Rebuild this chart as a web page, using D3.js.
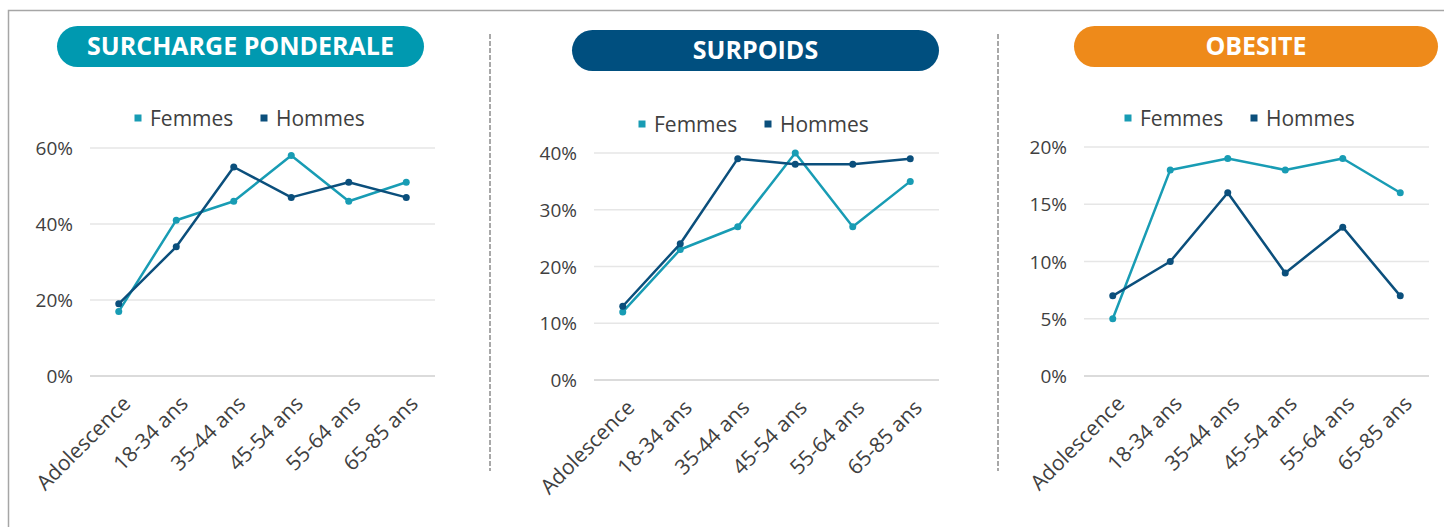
<!DOCTYPE html>
<html>
<head>
<meta charset="utf-8">
<script src="https://d3js.org/d3.v7.min.js"></script>
<style>
  body { margin: 0; background: #fff; font-family: "Open Sans", "Noto Sans", sans-serif; }
  svg { display: block; }
</style>
</head>
<body>
<svg id="chart" width="1448" height="527"></svg>
<script>
// categories shared by all three panels
const categories = ["Adolescence", "18-34 ans", "35-44 ans", "45-54 ans", "55-64 ans", "65-85 ans"];
const seriesNames = ["Femmes", "Hommes"];

const titles = ["SURCHARGE PONDERALE", "SURPOIDS", "OBESITE"];

// values in %
const surchargeFemmes = [17, 41, 46, 58, 46, 51];
const surchargeHommes = [19, 34, 55, 47, 51, 47];
const surpoidsFemmes = [12, 23, 27, 40, 27, 35];
const surpoidsHommes = [13, 24, 39, 38, 38, 39];
const obesiteFemmes = [5, 18, 19, 18, 19, 16];
const obesiteHommes = [7, 10, 16, 9, 13, 7];

const surchargeTicks = [0, 20, 40, 60];
const surpoidsTicks = [0, 10, 20, 30, 40];
const obesiteTicks = [0, 5, 10, 15, 20];

const colors = { Femmes: "#189cb4", Hommes: "#0b4f7c" };
const titleColors = ["#0099b0", "#004f7f", "#ee8a1a"];

// layout of each panel
const panels = [
  { title: titles[0], fill: titleColors[0], f: surchargeFemmes, h: surchargeHommes, ticks: surchargeTicks,
    pill: [57, 26, 367, 41], legendX: 138, legendY: 118, x0: 90, top: 148, bottom: 376 },
  { title: titles[1], fill: titleColors[1], f: surpoidsFemmes, h: surpoidsHommes, ticks: surpoidsTicks,
    pill: [572, 30, 367, 41], legendX: 642, legendY: 124, x0: 594, top: 153, bottom: 380 },
  { title: titles[2], fill: titleColors[2], f: obesiteFemmes, h: obesiteHommes, ticks: obesiteTicks,
    pill: [1074, 26, 364, 41], legendX: 1128, legendY: 118, x0: 1084, top: 147, bottom: 376 }
];

const svg = d3.select("#chart");

// outer frame
svg.append("path")
  .attr("d", "M8.5,527 L8.5,10.5 L1444,10.5")
  .attr("fill", "none")
  .attr("stroke", "#a6a6a6")
  .attr("stroke-width", 1.5);

// dashed separators
[490, 998].forEach(x => {
  svg.append("line")
    .attr("x1", x).attr("x2", x)
    .attr("y1", 34).attr("y2", 471)
    .attr("stroke", "#8c8c8c")
    .attr("stroke-width", 1.5)
    .attr("stroke-dasharray", "5,2");
});

panels.forEach(p => {
  const g = svg.append("g");

  // title pill
  const [px, py, pw, ph] = p.pill;
  g.append("rect")
    .attr("x", px).attr("y", py)
    .attr("width", pw).attr("height", ph)
    .attr("rx", ph / 2)
    .attr("fill", p.fill);
  g.append("text")
    .attr("x", px + pw / 2).attr("y", py + ph / 2 + 8.5)
    .attr("text-anchor", "middle")
    .attr("fill", "#fff")
    .attr("font-weight", "bold")
    .attr("font-size", 25)
    .text(p.title);

  // legend
  const leg = g.append("g").attr("transform", `translate(${p.legendX},${p.legendY})`);
  seriesNames.forEach((s, i) => {
    const lx = i * 126;
    leg.append("rect")
      .attr("x", lx - 3.5).attr("y", -3.5)
      .attr("width", 7).attr("height", 7)
      .attr("fill", colors[s]);
    leg.append("text")
      .attr("x", lx + 12).attr("y", 7.5)
      .attr("font-size", 21)
      .attr("fill", "#404040")
      .text(s);
  });

  const x = d3.scaleBand().domain(categories).range([p.x0, p.x0 + 345]);
  const y = d3.scaleLinear().domain([0, d3.max(p.ticks)]).range([p.bottom, p.top]);
  const cx = d => x(d) + x.bandwidth() / 2;

  // gridlines
  g.append("g").selectAll("line")
    .data(p.ticks)
    .enter().append("line")
    .attr("x1", p.x0).attr("x2", p.x0 + 345)
    .attr("y1", d => y(d)).attr("y2", d => y(d))
    .attr("stroke", d => d === 0 ? "#cfcfcf" : "#e6e6e6")
    .attr("stroke-width", 1.5);

  // y labels
  g.append("g").selectAll("text")
    .data(p.ticks)
    .enter().append("text")
    .attr("x", p.x0 - 17)
    .attr("y", d => y(d) + 7)
    .attr("text-anchor", "end")
    .attr("font-size", 19)
    .attr("fill", "#404040")
    .text(d => d + "%");

  // x labels
  g.append("g").selectAll("text")
    .data(categories)
    .enter().append("text")
    .attr("transform", d => `translate(${cx(d) + 13},${p.bottom + 29}) rotate(-45)`)
    .attr("text-anchor", "end")
    .attr("font-size", 21)
    .attr("fill", "#404040")
    .text(d => d);

  // lines
  const line = d3.line().x((d, i) => cx(categories[i])).y(d => y(d));
  [["Femmes", p.f], ["Hommes", p.h]].forEach(([s, vals]) => {
    g.append("path")
      .datum(vals)
      .attr("d", line)
      .attr("fill", "none")
      .attr("stroke", colors[s])
      .attr("stroke-width", 2.5)
      .attr("stroke-linejoin", "round");
    g.append("g").selectAll("circle")
      .data(vals)
      .enter().append("circle")
      .attr("cx", (d, i) => cx(categories[i]))
      .attr("cy", d => y(d))
      .attr("r", 3.5)
      .attr("fill", colors[s]);
  });
});
</script>
</body>
</html>
